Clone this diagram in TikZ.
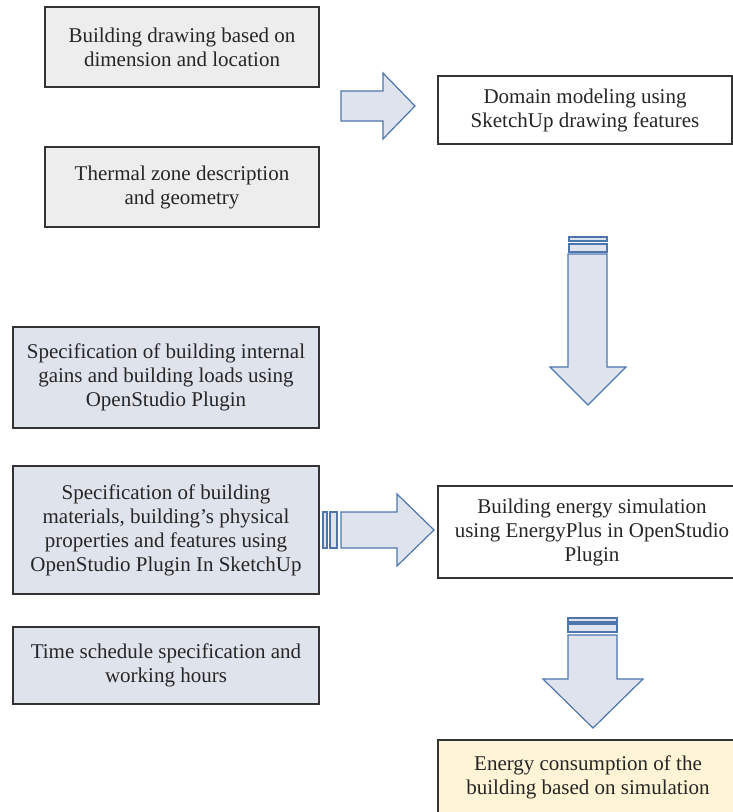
\documentclass[tikz,border=0pt]{standalone}
\usepackage{fontspec}
\setmainfont{Liberation Serif}
\definecolor{graybox}{HTML}{EDEDED}
\definecolor{bluebox}{HTML}{DFE3EC}
\definecolor{yellowbox}{HTML}{FFF4D6}
\definecolor{arrowfill}{HTML}{DEE3ED}
\definecolor{arrowline}{HTML}{4F76AC}
\begin{document}
\begin{tikzpicture}[x=1pt,y=-1pt,
  box/.style={draw=black!80,line width=1.2pt,text=black!85,font=\fontsize{21}{24}\selectfont,align=center,inner sep=0pt},
  blockarrow/.style={draw=arrowline,fill=arrowfill,line width=1.2pt,line join=miter}]
\useasboundingbox (0,0) rectangle (733,812);
\node [box,fill=graybox,minimum width=274,minimum height=80] (drawing) at (182,47) {Building drawing based on\\dimension and location};
\node [box,fill=graybox,minimum width=274,minimum height=80] (thermal) at (182,187) {Thermal zone description\\and geometry};
\node [box,fill=bluebox,minimum width=306,minimum height=101] (gains) at (166,377.5) {Specification of building internal\\gains and building loads using\\OpenStudio Plugin};
\node [box,fill=bluebox,minimum width=306,minimum height=128] (materials) at (166,530) {Specification of building\\materials, building's physical\\properties and features using\\OpenStudio Plugin In SketchUp};
\node [box,fill=bluebox,minimum width=306,minimum height=77] (schedule) at (166,665.5) {Time schedule specification and\\working hours};
\node [box,fill=white,minimum width=294,minimum height=68] (domain) at (585,110) {Domain modeling using\\SketchUp drawing features};
\node [box,fill=white,minimum width=308,minimum height=92] (simulation) at (592,532) {Building energy simulation\\using EnergyPlus in OpenStudio\\Plugin};
\node [box,fill=yellowbox,minimum width=300,minimum height=74] (consumption) at (588,777) {Energy consumption of the\\building based on simulation};
\draw [blockarrow] (341,91) -- (383,91) -- (383,73) -- (415,106) -- (383,139) -- (383,121) -- (341,121) -- cycle;
\draw [blockarrow] (569,237) rectangle (607,241); \draw [blockarrow] (569,244) rectangle (607,252);
\draw [blockarrow] (568,254) -- (568,367) -- (550,367) -- (588,405) -- (626,367) -- (607,367) -- (607,254) -- cycle;
\draw [blockarrow] (323,512) rectangle (327,548); \draw [blockarrow] (330,512) rectangle (337,548);
\draw [blockarrow] (341,512) -- (397,512) -- (397,494) -- (434,530) -- (397,566) -- (397,548) -- (341,548) -- cycle;
\draw [blockarrow] (568,618) rectangle (617,622); \draw [blockarrow] (568,624) rectangle (617,632);
\draw [blockarrow] (568,635) -- (568,679) -- (543,679) -- (593,728) -- (643,679) -- (617,679) -- (617,635) -- cycle;
\end{tikzpicture}
\end{document}
